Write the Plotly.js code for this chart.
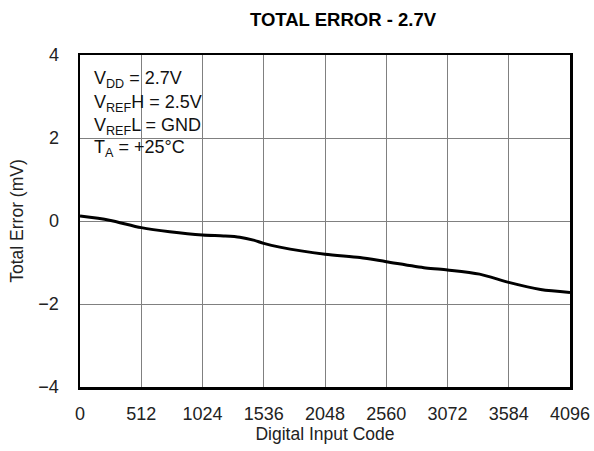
<!DOCTYPE html>
<html>
<head>
<meta charset="utf-8">
<script src="https://cdn.plot.ly/plotly-3.0.1.min.js"></script>
<style>html,body{margin:0;padding:0;background:#fff;}#chart{width:594px;height:451px;}</style>
</head>
<body>
<div id="chart"></div>
<script>
// Data
const codes = [0, 245, 512, 750, 1024, 1200, 1336, 1450, 1536, 1670, 2048, 2340, 2560, 2890, 3072, 3340, 3584, 3850, 4096];
const totalError = [0.12, 0.02, -0.16, -0.26, -0.34, -0.36, -0.39, -0.46, -0.54, -0.63, -0.80, -0.88, -0.98, -1.13, -1.18, -1.28, -1.48, -1.65, -1.72];
const xTicks = [0, 512, 1024, 1536, 2048, 2560, 3072, 3584, 4096];
const yTicks = [-4, -2, 0, 2, 4];
const yTickText = ['\u22124', '\u22122', '0', '2', '4'];
const noteLines = ['V<sub>DD</sub> = 2.7V', 'V<sub>REF</sub>H = 2.5V', 'V<sub>REF</sub>L = GND', 'T<sub>A</sub> = +25\u00B0C'];

const font = 'Liberation Sans, Arial, Helvetica, sans-serif';
const trace = {
  x: codes, y: totalError, type: 'scatter', mode: 'lines',
  line: {color: '#000', width: 3, shape: 'spline', smoothing: 0.8},
  hoverinfo: 'skip'
};
const noteY = [0.925, 0.853, 0.785, 0.717];
const annotations = noteLines.map((t, i) => ({
  xref: 'paper', yref: 'paper', x: 0.024, y: noteY[i], xanchor: 'left', yanchor: 'middle',
  text: t, showarrow: false, font: {family: font, size: 18, color: '#111'}
}));
const layout = {
  width: 594, height: 451,
  margin: {l: 80, r: 24, t: 55, b: 64},
  paper_bgcolor: '#fff', plot_bgcolor: '#fff',
  showlegend: false,
  title: {text: '<b>TOTAL ERROR - 2.7V</b>', x: 0.5, xref: 'paper', y: 0.95, yref: 'container',
          xanchor: 'center', yanchor: 'middle',
          font: {family: font, size: 18.5, color: '#000'}},
  xaxis: {
    range: [0, 4096], tickvals: xTicks, ticktext: xTicks.map(String),
    showgrid: true, gridcolor: '#808080', gridwidth: 1,
    zeroline: false, showline: true, linecolor: '#000', linewidth: 2.5, mirror: true,
    ticks: '', ticklen: 0, ticklabelstandoff: 9, tickfont: {family: font, size: 18, color: '#222'},
    title: {text: 'Digital Input Code', font: {family: font, size: 17.5, color: '#222'}, standoff: 2},
    fixedrange: true
  },
  yaxis: {
    range: [-4, 4], tickvals: yTicks, ticktext: yTickText,
    showgrid: true, gridcolor: '#808080', gridwidth: 1,
    zeroline: false, showline: true, linecolor: '#000', linewidth: 2.5, mirror: true,
    ticks: '', ticklen: 0, ticklabelstandoff: 15, tickfont: {family: font, size: 18, color: '#222'},
    title: {text: 'Total Error (mV)', font: {family: font, size: 17.5, color: '#222'}, standoff: 10},
    fixedrange: true
  },
  shapes: [{
    type: 'rect', xref: 'paper', yref: 'paper', layer: 'between',
    x0: 0, x1: 0.308, y0: 0.672, y1: 0.978,
    fillcolor: '#fff', line: {width: 0}
  }],
  annotations: annotations
};
// title position given in pixels -> convert to fractions
layout.title.x = (343 - layout.margin.l) / (layout.width - layout.margin.l - layout.margin.r);
layout.title.y = 1 - 20 / layout.height;
Plotly.newPlot('chart', [trace], layout, {displayModeBar: false, staticPlot: true});
</script>
</body>
</html>
